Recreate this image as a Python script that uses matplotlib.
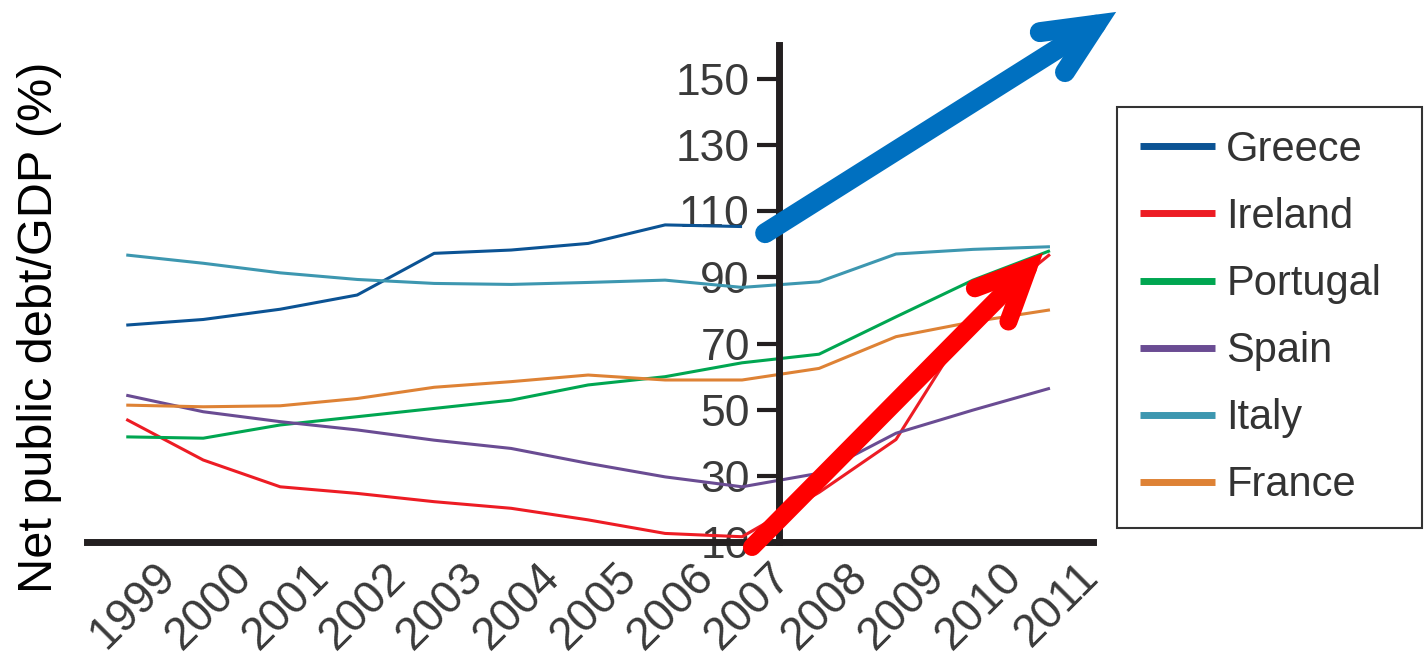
import numpy as np
import matplotlib
matplotlib.use('Agg')
import matplotlib.pyplot as plt
from matplotlib.patches import FancyArrowPatch, ArrowStyle
from matplotlib.transforms import ScaledTranslation

plt.rcParams['font.family'] = ['Liberation Sans', 'DejaVu Sans']

years = list(range(1999, 2012))
greece = [75.6, 77.3, 80.4, 84.7, 97.3, 98.3, 100.3, 105.9, 105.4]
ireland = [47.1, 34.8, 26.7, 24.7, 22.2, 20.2, 16.7, 12.6, 11.6, 25.0, 41.0, 78.0, 97.0]
portugal = [41.8, 41.4, 45.4, 47.9, 50.4, 52.9, 57.5, 60.0, 64.2, 66.8, 78.1, 89.2, 98.1]
spain = [54.4, 49.4, 46.4, 43.9, 40.8, 38.3, 33.8, 29.7, 26.7, 30.8, 42.9, 49.9, 56.5]
italy = [96.8, 94.3, 91.4, 89.4, 88.2, 87.9, 88.5, 89.2, 87.0, 88.7, 97.1, 98.5, 99.3]
france = [51.4, 50.9, 51.2, 53.4, 56.8, 58.5, 60.5, 59.0, 59.0, 62.5, 72.1, 76.6, 80.2]

series = [('Greece', greece, '#0B5394'),
          ('Ireland', ireland, '#ED1C24'),
          ('Portugal', portugal, '#00A651'),
          ('Spain', spain, '#6A4C93'),
          ('Italy', italy, '#3D97B0'),
          ('France', france, '#DE8235')]

y_ticks = [10, 30, 50, 70, 90, 110, 130, 150]

# annotation arrows (tail, tip) in data units
blue_arrow = ((2007.30, 103.4), (2011.86, 170.3))
red_arrow = ((2007.13, 8.5), (2010.91, 97.4))

fig = plt.figure(figsize=(14.24, 6.59), dpi=100)
ax = fig.add_axes([0.0611, 0.1775, 0.7065, 0.7542])

handles = []
for name, vals, col in series:
    ln, = ax.plot(years[:len(vals)], vals, color=col, lw=2.2, label=name,
                  solid_capstyle='butt')
    handles.append(ln)

ax.set_xlim(1998.49, 2011.56)
ax.set_ylim(10, 160.3)

for s in ['top', 'right']:
    ax.spines[s].set_visible(False)
ax.spines['left'].set_position(('data', 2007.48))
for s in ['left', 'bottom']:
    ax.spines[s].set_linewidth(5)
    ax.spines[s].set_color('#231F20')
    ax.spines[s].set_zorder(3)

ax.set_yticks(y_ticks)
ax.tick_params(axis='y', direction='out', length=16, width=3, color='#231F20',
               pad=5, labelsize=32, labelcolor='#3a3a3a')
ax.set_xticks(years)
ax.set_xticklabels([str(y) for y in years], rotation=45, ha='right', va='top')
ax.tick_params(axis='x', length=0, pad=9, labelsize=33, labelcolor='#3a3a3a')
off = ScaledTranslation(0.58, 0, fig.dpi_scale_trans)
for lab in ax.get_xticklabels():
    lab.set_transform(lab.get_transform() + off)

fig.text(0.028, 0.504, 'Net public debt/GDP (%)', rotation=90, fontsize=35,
         ha='center', va='center', color='black')

for (tail, tip), col, lw in [(blue_arrow, '#0070C0', 14.4), (red_arrow, '#FF0000', 13)]:
    arr = FancyArrowPatch(tail, tip,
                          arrowstyle=ArrowStyle('->', head_length=37, head_width=17),
                          mutation_scale=1, lw=lw, color=col, capstyle='round',
                          joinstyle='miter', shrinkA=0, shrinkB=0,
                          clip_on=False, zorder=5)
    ax.add_patch(arr)

leg = fig.legend(handles=handles, loc='upper left',
                 bbox_to_anchor=(1117 / 1424, 1 - 523 / 659, 305 / 1424, 416 / 659),
                 mode='expand', prop={'size': 30},
                 frameon=True, fancybox=False, edgecolor='black', borderaxespad=0,
                 handlelength=1.8, handletextpad=0.27, labelspacing=0.65,
                 borderpad=0.55)
leg.get_frame().set_linewidth(1.5)
for t in leg.get_texts():
    t.set_color('#333333')
for l in leg.get_lines():
    l.set_linewidth(5)

fig.savefig('out.png', dpi=100)
